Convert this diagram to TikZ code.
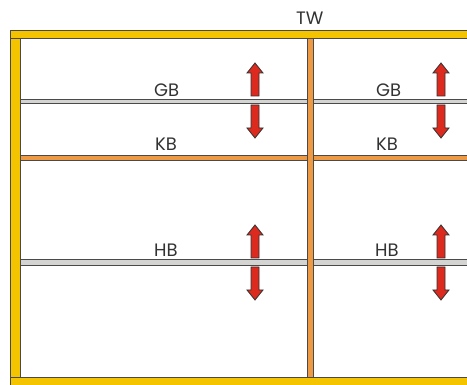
\documentclass[tikz,border=0pt]{standalone}
\usepackage{fontspec}
\setmainfont{Poppins}
\definecolor{beamY}{HTML}{F5C400}
\definecolor{beamO}{HTML}{EE9A45}
\definecolor{edge}{HTML}{4A4A4A}
\definecolor{shelfG}{HTML}{D4D4D2}
\definecolor{arrR}{HTML}{DC2A1E}
\definecolor{txt}{HTML}{333333}
\tikzset{
  ybeam/.style={fill=beamY, draw=edge, line width=0.9pt},
  obeam/.style={fill=beamO, draw=edge, line width=0.9pt},
  gshelf/.style={fill=shelfG, draw=edge, line width=0.9pt},
  redarrow/.style={fill=arrR, draw=black!80, line width=0.8pt, line join=miter},
  lbl/.style={anchor=base west, inner sep=0pt, text=txt, font=\fontsize{18}{18}\selectfont},
  pics/uparr/.style={code={\path[redarrow] (-4,0) -- (-4,23) -- (-8,23) -- (0,33) -- (8,23) -- (4,23) -- (4,0) -- cycle;}},
  pics/downarr/.style={code={\path[redarrow] (-4,0) -- (-4,-23) -- (-8,-23) -- (0,-33) -- (8,-23) -- (4,-23) -- (4,0) -- cycle;}}
}
\begin{document}
\begin{tikzpicture}[x=1pt,y=1pt]
\useasboundingbox (0,0) rectangle (467,385);
\clip (0,0) rectangle (467,385);
% shelves
\path[gshelf] (20,282) rectangle (470,286);
\path[obeam] (20,225) rectangle (470,230);
\path[gshelf] (20,120) rectangle (470,126);
% posts
\path[obeam] (307,8) rectangle (313,347);
\path[ybeam] (10,8) rectangle (20,347);
% top and bottom bars
\path[ybeam] (10,347) rectangle (470,355);
\path[ybeam] (10,0) rectangle (470,8);
% arrows
\pic at (255,289) {uparr};
\pic at (255,280) {downarr};
\pic at (255,127) {uparr};
\pic at (255,118) {downarr};
\pic at (441,289) {uparr};
\pic at (441,280) {downarr};
\pic at (441,127) {uparr};
\pic at (441,118) {downarr};
% labels
\node[lbl] (tw) at (296,360) {TW};
\node[lbl] (gb1) at (154,288.5) {GB};
\node[lbl] (kb1) at (155,234) {KB};
\node[lbl] (hb1) at (154,128.5) {HB};
\node[lbl] (gb2) at (376,288.5) {GB};
\node[lbl] (kb2) at (376,234) {KB};
\node[lbl] (hb2) at (375,128.5) {HB};
\end{tikzpicture}
\end{document}
